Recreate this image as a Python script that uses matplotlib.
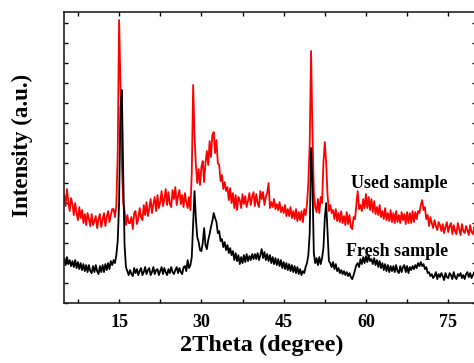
import numpy as np
import matplotlib
matplotlib.use("Agg")
import matplotlib.pyplot as plt
from matplotlib.ticker import MultipleLocator

plt.rcParams['font.family'] = ['Liberation Serif', 'DejaVu Serif']
plt.rcParams['font.weight'] = 'bold'

###### DATA
two_theta = np.arange(5.0, 80.001, 0.25)

fresh = [
    45, 38, 46, 39,  43, 37, 42, 36,  43, 35, 41, 34,  40, 33, 39, 32,
    38, 31, 38, 32,  30, 37, 31, 38,  32, 29, 37, 31,  38, 31, 39, 33,
    40, 34, 42, 38,  43, 40, 48, 62,  100, 195, 213, 130,  58, 36, 32, 28,
    33, 29, 27, 35,  30, 34, 28, 32,  35, 28, 31, 36,  29, 33, 35, 28,
    31, 36, 29, 33,  34, 28, 32, 36,  29, 35, 31, 28,  34, 30, 36, 31,
    29, 33, 36, 30,  35, 31, 29, 36,  37, 32, 43, 35,  38, 46, 80, 112,
    84, 66, 61, 53,  52, 60, 75, 58,  54, 63, 69, 76,  82, 90, 85, 81,
    70, 72, 62, 64,  56, 61, 53, 58,  50, 55, 48, 52,  43, 50, 42, 48,
    39, 46, 40, 48,  41, 49, 42, 47,  43, 49, 44, 49,  44, 50, 43, 48,
    54, 45, 51, 43,  49, 42, 48, 40,  46, 39, 45, 38,  44, 37, 43, 35,
    41, 34, 40, 33,  39, 32, 38, 31,  37, 30, 36, 29,  34, 28, 32, 30,
    36, 40, 48, 70,  155, 120, 50, 40,  45, 38, 46, 39,  45, 55, 85, 100,
    70, 42, 40, 36,  41, 34, 39, 32,  35, 30, 33, 29,  32, 28, 31, 27,
    30, 26, 24, 28,  33, 38, 40, 36,  44, 39, 46, 40,  47, 41, 48, 42,
    44, 39, 45, 38,  43, 36, 42, 35,  40, 33, 39, 32,  38, 31, 37, 32,
    37, 31, 38, 32,  30, 37, 31, 36,  38, 31, 37, 30,  36, 33, 37, 34,
    38, 35, 40, 37,  41, 37, 39, 34,  36, 30, 31, 27,  29, 25, 27, 31,
    24, 29, 26, 30,  27, 23, 30, 26,  25, 30, 28, 24,  31, 26, 24, 29,
    27, 30, 25, 28,  24, 29, 31, 26,  30, 25, 28, 31,  28,
]

used = [
    108, 97, 114, 101,  92, 105, 99, 88,  100, 90, 83, 96,  85, 93, 80, 89,
    78, 90, 84, 77,  89, 78, 82, 87,  75, 84, 89, 76,  83, 90, 77, 86,
    92, 81, 88, 94,  94, 86, 98, 150,  283, 220, 140, 100,  92, 78, 88, 80,
    80, 86, 74, 90,  92, 79, 84, 95,  86, 83, 98, 88,  101, 87, 95, 104,
    90, 99, 106, 92,  108, 95, 101, 112,  97, 104, 114, 98,  111, 99, 96, 113,
    104, 116, 98, 107,  113, 99, 108, 96,  110, 101, 95, 106,  93, 130, 218, 168,
    138, 120, 134, 118,  136, 142, 121, 140,  152, 138, 162, 146,  168, 171, 150, 163,
    140, 138, 122, 128,  114, 121, 112, 116,  103, 115, 100, 110,  95, 108, 93, 106,
    103, 95, 109, 99,  107, 96, 102, 110,  98, 106, 111, 97,  109, 100, 96, 112,
    104, 111, 98, 106,  110, 120, 95, 101,  96, 104, 94, 99,  93, 101, 91, 96,
    90, 98, 87, 94,  87, 96, 85, 92,  84, 94, 82, 91,  83, 92, 81, 94,
    88, 99, 120, 160,  252, 170, 110, 96,  91, 104, 90, 106,  100, 140, 161, 140,
    108, 92, 98, 90,  93, 84, 94, 82,  90, 81, 92, 80,  87, 78, 91, 79,
    88, 76, 74, 86,  84, 98, 112, 94,  98, 92, 104, 95,  109, 95, 106, 93,
    104, 91, 102, 89,  96, 88, 98, 86,  92, 84, 95, 83,  90, 82, 93, 81,
    90, 80, 92, 81,  88, 80, 91, 83,  89, 79, 91, 80,  90, 80, 92, 81,
    91, 84, 92, 90,  98, 103, 93, 96,  84, 88, 77, 86,  80, 75, 83, 77,
    73, 81, 78, 72,  79, 70, 76, 81,  71, 77, 80, 69,  78, 72, 69, 80,
    74, 68, 79, 72,  70, 77, 73, 68,  78, 71, 69, 76,  72,
]

x_ticks = [15, 30, 45, 60, 75]
###### END DATA

fig = plt.figure(figsize=(4.74, 3.63), dpi=100)
ax = fig.add_axes([0.1355, 0.165, 0.868, 0.802])

ax.plot(two_theta, used, color='#ff0000', lw=1.3)
ax.plot(two_theta, fresh, color='black', lw=1.3)

ax.text(57.3, 120, 'Used sample', fontsize=13, fontweight='bold', va='center')
ax.text(56.4, 52, 'Fresh sample', fontsize=13, fontweight='bold', va='center')

ax.set_xlim(5, 80)
ax.set_ylim(0, 291)
ax.set_xticks(x_ticks)
ax.xaxis.set_minor_locator(MultipleLocator(7.5))
ax.yaxis.set_major_locator(MultipleLocator(20))
ax.tick_params(which='both', direction='in', top=True, right=True, length=3,
               width=1, labelsize=13)
ax.tick_params(axis='x', pad=8)
ax.tick_params(axis='y', which='both', labelleft=False)
for lab in ax.get_xticklabels():
    lab.set_fontweight('bold')
for sp in ax.spines.values():
    sp.set_linewidth(1.2)
    sp.set_color('#222222')

ax.set_xlabel('2Theta (degree)', fontsize=17.5, fontweight='bold')
ax.set_ylabel('Intensity (a.u.)', fontsize=16.5, fontweight='bold')
ax.xaxis.set_label_coords(0.48, -0.11)
ax.yaxis.set_label_coords(-0.076, 0.543)

fig.savefig('out.png', dpi=100)
